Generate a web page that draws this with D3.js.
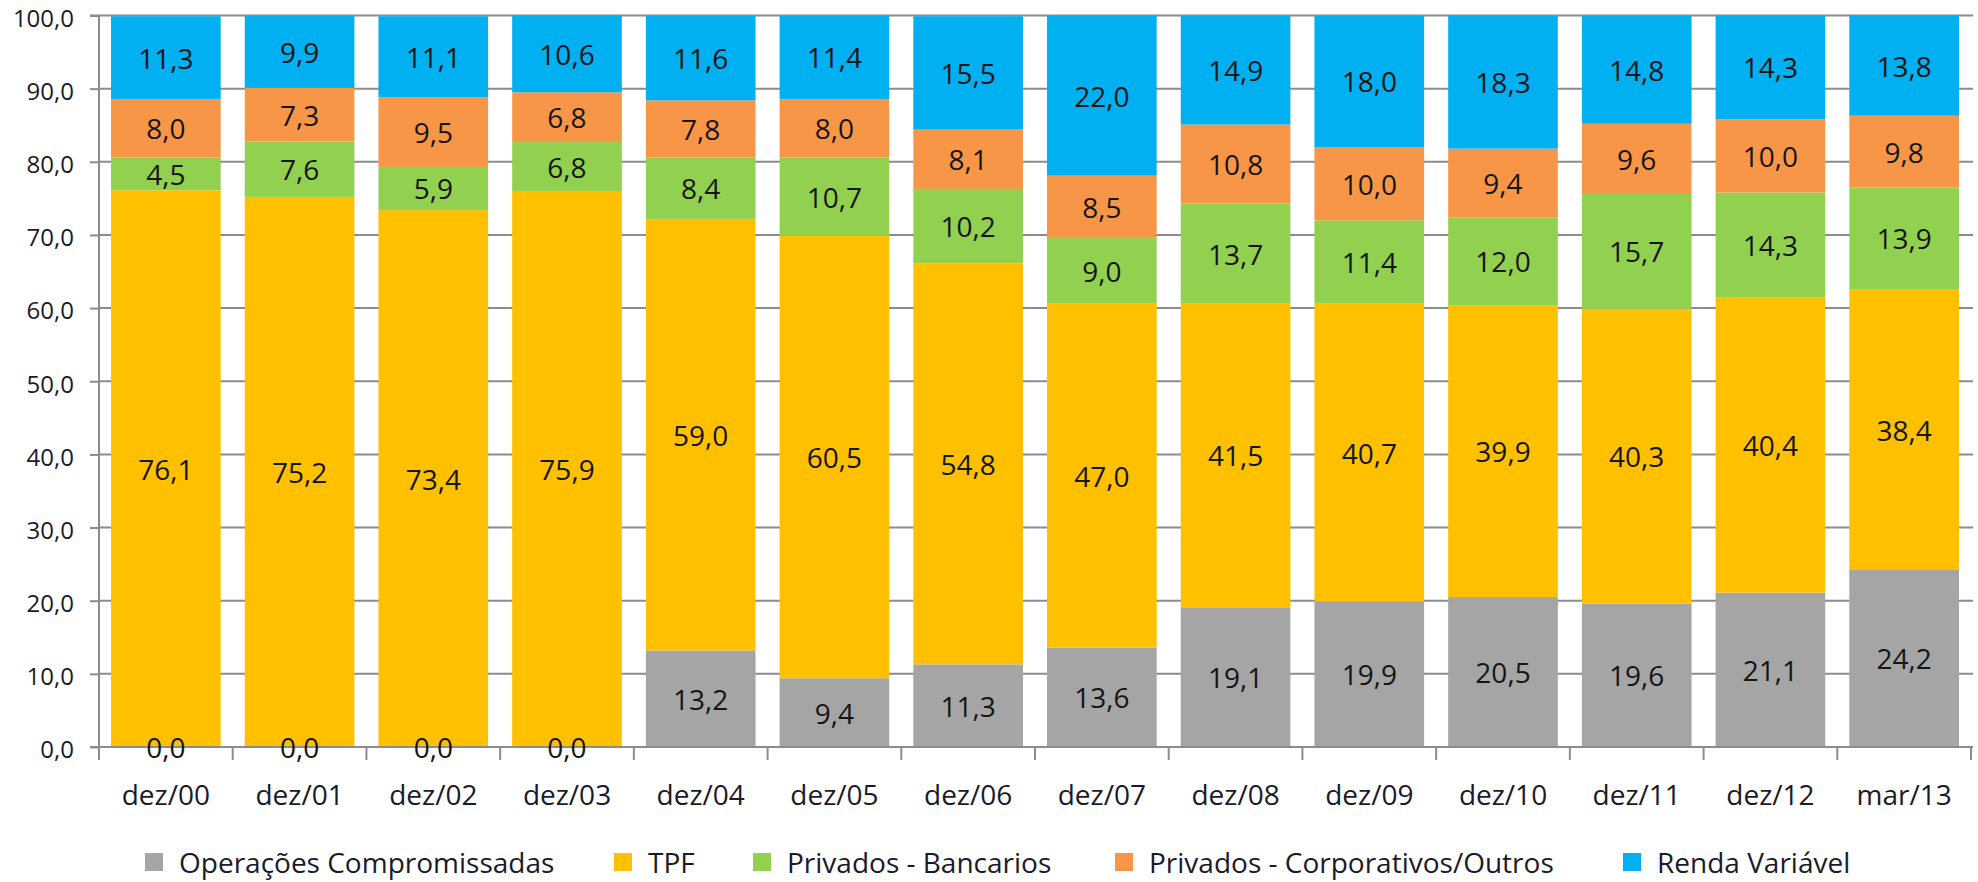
<!DOCTYPE html>
<html>
<head>
<meta charset="utf-8">
<script src="https://cdn.jsdelivr.net/npm/d3@7"></script>
<style>
  html, body { margin: 0; padding: 0; background: #fff; }
  svg { display: block; font-family: "Open Sans", sans-serif; }
</style>
</head>
<body>
<svg id="chart" width="1978" height="882"></svg>
<script>
const categories = ["dez/00","dez/01","dez/02","dez/03","dez/04","dez/05","dez/06","dez/07","dez/08","dez/09","dez/10","dez/11","dez/12","mar/13"];
const seriesNames = ["Operações Compromissadas","TPF","Privados - Bancarios","Privados - Corporativos/Outros","Renda Variável"];
const seriesColors = ["#A5A5A5","#FFC000","#92D050","#F79646","#00B0F0"];
const operacoes = [0.0,0.0,0.0,0.0,13.2,9.4,11.3,13.6,19.1,19.9,20.5,19.6,21.1,24.2];
const tpf = [76.1,75.2,73.4,75.9,59.0,60.5,54.8,47.0,41.5,40.7,39.9,40.3,40.4,38.4];
const bancarios = [4.5,7.6,5.9,6.8,8.4,10.7,10.2,9.0,13.7,11.4,12.0,15.7,14.3,13.9];
const corporativos = [8.0,7.3,9.5,6.8,7.8,8.0,8.1,8.5,10.8,10.0,9.4,9.6,10.0,9.8];
const rendaVariavel = [11.3,9.9,11.1,10.6,11.6,11.4,15.5,22.0,14.9,18.0,18.3,14.8,14.3,13.8];
const yTicks = [0,10,20,30,40,50,60,70,80,90,100];

const seriesValues = [operacoes, tpf, bancarios, corporativos, rendaVariavel];
const keys = ["s0","s1","s2","s3","s4"];
const table = categories.map((c, i) => {
  const row = { cat: c };
  keys.forEach((k, j) => row[k] = seriesValues[j][i]);
  return row;
});

const svg = d3.select("#chart");
const pLeft = 99, pRight = 1971, pTop = 15.5, pBottom = 747;
const grid = "#8C8C8C";
const fmt = v => d3.format(".1f")(v).replace(".", ",");

const x = d3.scaleBand().domain(categories).range([pLeft, pRight]).paddingInner(0.18).paddingOuter(0.09);
const y = d3.scaleLinear().domain([0, 100]).range([pBottom, pTop]);

// gridlines
svg.append("g").selectAll("line").data(yTicks.filter(t => t > 0)).join("line")
  .attr("x1", pLeft).attr("x2", pRight + 2)
  .attr("y1", d => y(d)).attr("y2", d => y(d))
  .attr("stroke", grid).attr("stroke-width", 2);

// clip at 100
svg.append("clipPath").attr("id", "plotclip").append("rect")
  .attr("x", pLeft).attr("y", y(100)).attr("width", pRight - pLeft).attr("height", pBottom - y(100));

const stacked = d3.stack().keys(keys)(table);

const gBars = svg.append("g").attr("clip-path", "url(#plotclip)");
stacked.forEach((layer, j) => {
  gBars.append("g").attr("fill", seriesColors[j]).selectAll("rect").data(layer).join("rect")
    .attr("x", d => x(d.data.cat))
    .attr("width", x.bandwidth())
    .attr("y", d => y(d[1]))
    .attr("height", d => y(d[0]) - y(d[1]));
});

// y axis
const yAxis = d3.axisLeft(y).tickValues(yTicks).tickSize(9).tickPadding(16).tickFormat(fmt);
const gy = svg.append("g").attr("transform", `translate(${pLeft},0)`).call(yAxis);
gy.select(".domain").attr("stroke", grid).attr("stroke-width", 2).attr("d", `M-9,${y(100)}H0V${pBottom + 13}`);
gy.selectAll(".tick line").attr("stroke", grid).attr("stroke-width", 2);
gy.selectAll(".tick text").attr("font-size", 24).attr("fill", "#1a1a2a").attr("font-family", "'Open Sans', sans-serif")
  .attr("dy", "0.45em");

// x axis
const xAxis = d3.axisBottom(x).tickSize(0).tickPadding(0);
const gx = svg.append("g").attr("transform", `translate(0,${pBottom})`).call(xAxis);
gx.select(".domain").attr("stroke", grid).attr("stroke-width", 2).attr("d", `M${pLeft - 9},0H${pRight + 2}`);
gx.selectAll(".tick text").attr("font-size", 28).attr("fill", "#1a1a2a").attr("font-family", "'Open Sans', sans-serif")
  .attr("dy", null).attr("y", 58);
// category boundary ticks
const bounds = categories.map((c, i) => x(c) - x.step() * 0.09).concat([pRight]);
svg.append("g").selectAll("line").data(bounds).join("line")
  .attr("x1", d => d).attr("x2", d => d)
  .attr("y1", pBottom).attr("y2", pBottom + 13)
  .attr("stroke", grid).attr("stroke-width", 2);

// data labels
stacked.forEach((layer, j) => {
  svg.append("g").selectAll("text").data(layer).join("text")
    .attr("x", d => x(d.data.cat) + x.bandwidth() / 2)
    .attr("y", d => (y(d[0]) + y(Math.min(d[1], 100))) / 2)
    .attr("text-anchor", "middle")
    .attr("dominant-baseline", "central")
    .attr("font-size", 28)
    .attr("fill", "#151515")
    .text(d => fmt(d[1] - d[0]));
});

// legend
const legendX = [145, 614, 753, 1115, 1623];
const leg = svg.append("g");
const ly = 862;
seriesNames.forEach((name, j) => {
  leg.append("rect").attr("x", legendX[j]).attr("y", ly - 9).attr("width", 18).attr("height", 18).attr("fill", seriesColors[j]);
  leg.append("text").attr("x", legendX[j] + 34).attr("y", ly).attr("dominant-baseline", "central")
    .attr("font-size", 28).attr("fill", "#1a1a2a").text(name);
});
</script>
</body>
</html>
